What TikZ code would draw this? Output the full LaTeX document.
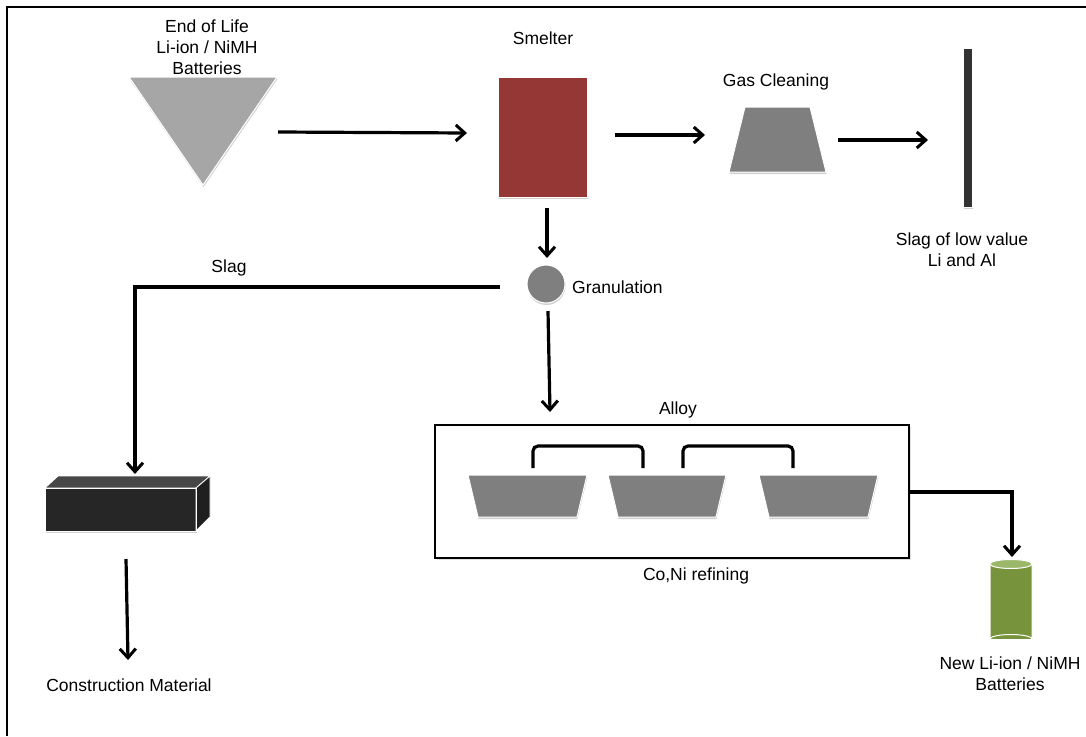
\documentclass[tikz,border=0pt]{standalone}
\usepackage{fontspec}
\setmainfont{Liberation Sans}
\usetikzlibrary{arrows.meta,shadows}
\definecolor{trigray}{HTML}{A6A6A6}
\definecolor{midgray}{HTML}{7F7F7F}
\definecolor{smeltred}{HTML}{953735}
\definecolor{bardark}{HTML}{333333}
\definecolor{battgreen}{HTML}{77933C}
\definecolor{battlight}{HTML}{9BB76A}
\tikzset{
  lbl/.style={font=\fontsize{17.5}{21}\selectfont, align=center, inner sep=0pt},
  flow/.style={line width=3.2pt, -{Straight Barb[length=9pt,width=16pt,line width=3pt]}},
  shp/.style={draw=white, line width=1pt, drop shadow={shadow xshift=0.5pt, shadow yshift=-2pt, opacity=0.18, fill=black}},
  bracketline/.style={line width=3.2pt, rounded corners=5pt}
}
\begin{document}
\begin{tikzpicture}[x=1pt,y=-1pt]
\useasboundingbox (0,0) rectangle (1086,736);
% outer frame
\draw[line width=2pt] (7,736) -- (7,7) -- (1086,7);

% texts
\node[lbl] (eol) at (207,47) {End of Life\\Li-ion / NiMH\\Batteries};
\node[lbl] (smeltlbl) at (543,38) {Smelter};
\node[lbl] (gaslbl) at (776,82) {Gas Cleaning};
\node[lbl] (sloglbl) at (962,250) {Slag of low value\\Li and Al};
\node[lbl] (slaglbl) at (229,268) {Slag};
\node[lbl, anchor=west] (granlbl) at (572,287) {Granulation};
\node[lbl] (alloylbl) at (678,410) {Alloy};
\node[lbl] (conilbl) at (696,576) {Co,Ni refining};
\node[lbl] (constr) at (129,685) {Construction Material};
\node[lbl] (newbatt) at (1010,674) {New Li-ion / NiMH\\Batteries};

% triangle
\fill[trigray, shp] (129,77) -- (277,77) -- (203,185) -- cycle;
% smelter
\node[shp, fill=smeltred, minimum width=89pt, minimum height=120pt, inner sep=0pt, outer sep=0pt] (smelter) at (542.5,137) {};
% gas cleaning trapezoid
\fill[midgray, shp] (745,107) -- (810,107) -- (826,172) -- (729,172) -- cycle;
% slag bar
\node[shp, fill=bardark, minimum width=9pt, minimum height=159pt, inner sep=0pt] (bar) at (967.5,127.5) {};
% granulation circle
\node[shp, circle, fill=midgray, minimum size=38pt, inner sep=0pt] (gran) at (546,284) {};

% construction block
\begin{scope}[draw=white, line width=0.8pt]
\fill[black!85, shp] (45,488) rectangle (196,531);
\filldraw[fill=black!72] (45,488) -- (58,476) -- (210,476) -- (196,488) -- cycle;
\filldraw[fill=black!88] (196,488) -- (210,476) -- (210,517) -- (196,531) -- cycle;
\draw (45,488) rectangle (196,531);
\end{scope}

% refining box
\node[draw=black, line width=2pt, minimum width=474pt, minimum height=133pt, inner sep=0pt, outer sep=0pt,
  drop shadow={shadow xshift=1.5pt, shadow yshift=-2pt, opacity=0.12, fill=black}, fill=white] (refbox) at (672,491.5) {};
\fill[midgray, shp] (468,475) -- (587,475) -- (577,517) -- (478,517) -- cycle;
\fill[midgray, shp] (608,475) -- (726,475) -- (716,517) -- (618,517) -- cycle;
\fill[midgray, shp] (759,475) -- (878,475) -- (868,517) -- (769,517) -- cycle;
\draw[bracketline] (533,468) -- (533,446) -- (643,446) -- (643,468);
\draw[bracketline] (683,468) -- (683,446) -- (793,446) -- (793,468);

% battery cylinder
\fill[battgreen] (990,564) rectangle (1032,639);
\filldraw[fill=battgreen, draw=white, line width=1pt] (990,564) -- (990,639) arc[start angle=180, end angle=360, x radius=21pt, y radius=-4.5pt] -- (1032,564);
\filldraw[fill=battlight, draw=white, line width=1pt] (1011,564) ellipse [x radius=21pt, y radius=4.5pt];

% connector coordinates
\coordinate (a1s) at (278,132);
\coordinate (a1e) at (467,133);
\coordinate (a2s) at (615,135);
\coordinate (a2e) at (705,135);
\coordinate (a3s) at (838,140);
\coordinate (a3e) at (928,140);
\coordinate (a4s) at (547,208);
\coordinate (a4e) at (547,258);
\coordinate (slagS) at (500,287);
\coordinate (slagC) at (135,287);
\coordinate (slagE) at (135,474);
\coordinate (a5s) at (548,311);
\coordinate (a5e) at (550,412);
\coordinate (a6s) at (126,559);
\coordinate (a6e) at (128,660);
\coordinate (rC) at (1012,492);
\coordinate (rE) at (1012,557);

\draw[flow] (a1s) -- (a1e);
\draw[flow] (a2s) -- (a2e);
\draw[flow] (a3s) -- (a3e);
\draw[flow] (a4s) -- (a4e);
\draw[flow] (slagS) -- (slagC) -- (slagE);
\draw[flow] (a5s) -- (a5e);
\draw[flow] (a6s) -- (a6e);
\draw[flow] (refbox.east |- rC) -- (rC) -- (rE);
\end{tikzpicture}
\end{document}
